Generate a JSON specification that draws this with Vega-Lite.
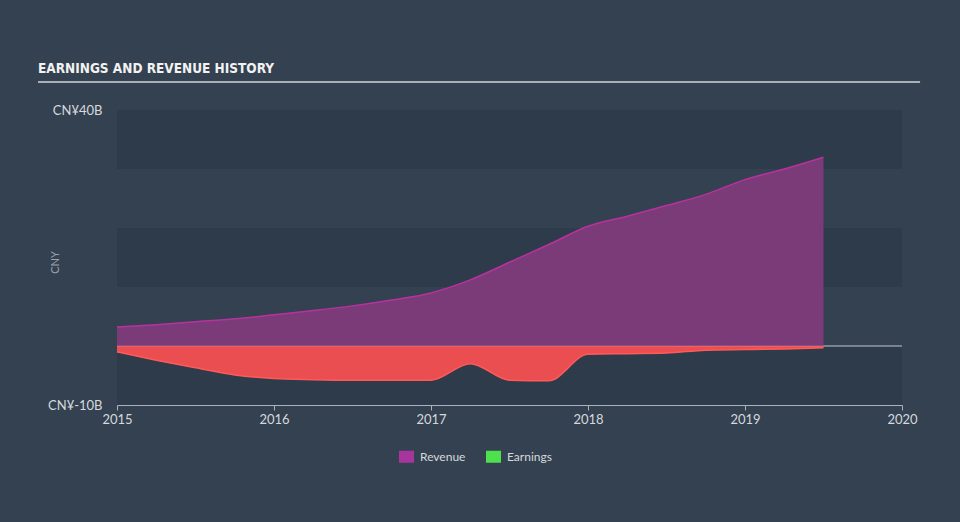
{
  "$schema": "https://vega.github.io/schema/vega-lite/v6.json",
  "width": 785,
  "height": 295,
  "autosize": "none",
  "padding": {"left": 117, "top": 110, "right": 58, "bottom": 117},
  "background": "#344150",
  "title": {
    "text": "EARNINGS AND REVENUE HISTORY",
    "anchor": "start",
    "frame": "group",
    "dx": -79,
    "offset": 5,
    "font": "DejaVu Sans Condensed, Roboto, sans-serif",
    "fontWeight": "bold",
    "fontSize": 13.5,
    "color": "#f2f2f2"
  },
  "datasets": {
    "bands": [
      {"lo": 30, "hi": 40},
      {"lo": 10, "hi": 20},
      {"lo": -10, "hi": 0}
    ],
    "revenue": [
      {"year": 2015.0, "value": 3.2},
      {"year": 2015.25, "value": 3.6},
      {"year": 2015.5, "value": 4.1},
      {"year": 2015.75, "value": 4.6},
      {"year": 2016.0, "value": 5.3},
      {"year": 2016.25, "value": 6.0},
      {"year": 2016.5, "value": 6.8},
      {"year": 2016.75, "value": 7.8},
      {"year": 2017.0, "value": 9.0},
      {"year": 2017.25, "value": 11.2},
      {"year": 2017.5, "value": 14.2},
      {"year": 2017.75, "value": 17.2},
      {"year": 2018.0, "value": 20.3},
      {"year": 2018.25, "value": 22.0},
      {"year": 2018.5, "value": 23.8},
      {"year": 2018.75, "value": 25.7},
      {"year": 2019.0, "value": 28.2},
      {"year": 2019.25, "value": 30.0},
      {"year": 2019.5, "value": 32.0}
    ],
    "earnings": [
      {"year": 2015.0, "value": -1.0},
      {"year": 2015.25, "value": -2.4},
      {"year": 2015.5, "value": -3.7},
      {"year": 2015.75, "value": -4.9},
      {"year": 2016.0, "value": -5.5},
      {"year": 2016.25, "value": -5.7},
      {"year": 2016.5, "value": -5.8},
      {"year": 2016.75, "value": -5.8},
      {"year": 2017.0, "value": -5.8},
      {"year": 2017.25, "value": -3.0},
      {"year": 2017.5, "value": -5.8},
      {"year": 2017.75, "value": -5.9},
      {"year": 2018.0, "value": -1.4},
      {"year": 2018.25, "value": -1.3},
      {"year": 2018.5, "value": -1.2},
      {"year": 2018.75, "value": -0.7},
      {"year": 2019.0, "value": -0.6},
      {"year": 2019.25, "value": -0.5},
      {"year": 2019.5, "value": -0.3}
    ],
    "legend": [
      {"series": "Revenue"},
      {"series": "Earnings"}
    ],
    "one": [{"k": 1}]
  },
  "layer": [
    {
      "data": {"name": "bands"},
      "mark": {"type": "rect", "color": "#2e3b4a"},
      "encoding": {
        "x": {"datum": 2015, "type": "quantitative", "scale": {"domain": [2015, 2020]},
          "axis": {"values": [2015, 2016, 2017, 2018, 2019, 2020], "format": "d", "title": null, "grid": false,
            "domainColor": "#aab3bd", "tickColor": "#aab3bd", "tickSize": 5, "labelColor": "#d5d9de",
            "labelFontSize": 13, "labelFont": "Lato", "labelPadding": 3, "labelFlush": false}},
        "x2": {"datum": 2020},
        "y": {"field": "lo", "type": "quantitative", "scale": {"domain": [-10, 40], "nice": false},
          "axis": {"values": [-10, 40], "labelExpr": "'CN¥' + datum.value + 'B'", "title": "CNY",
            "grid": false, "domain": false, "ticks": false, "labelPadding": 15,
            "labelColor": "#d5d9de", "labelFontSize": 13, "labelFont": "Lato",
            "titleColor": "#9aa3ad", "titleFont": "Lato", "titleFontWeight": "normal", "titleFontSize": 11,
            "titleX": -62, "titleY": 152, "titleAngle": -90, "titleAlign": "center", "titleBaseline": "middle"}},
        "y2": {"field": "hi"}
      }
    },
    {
      "data": {"name": "one"},
      "mark": {"type": "rule", "color": "#c3c8ce", "strokeWidth": 1},
      "encoding": {
        "x": {"datum": 2015, "type": "quantitative"},
        "x2": {"datum": 2020},
        "y": {"datum": 0, "type": "quantitative"}
      }
    },
    {
      "data": {"name": "revenue"},
      "mark": {"type": "area", "interpolate": "monotone", "color": "#7b3a78", "opacity": 1,
        "line": {"color": "#b8329f", "strokeWidth": 1.5}},
      "encoding": {
        "x": {"field": "year", "type": "quantitative"},
        "y": {"field": "value", "type": "quantitative"}
      }
    },
    {
      "data": {"name": "earnings"},
      "mark": {"type": "area", "interpolate": "monotone", "color": "#ea4e50", "opacity": 1,
        "line": {"color": "#ff5a5a", "strokeWidth": 1.5}},
      "encoding": {
        "x": {"field": "year", "type": "quantitative"},
        "y": {"field": "value", "type": "quantitative"}
      }
    },
    {
      "data": {"name": "one"},
      "mark": {"type": "rule", "color": "#ffffff", "opacity": 0.22, "strokeWidth": 1},
      "encoding": {
        "x": {"datum": 2015, "type": "quantitative"},
        "x2": {"datum": 2019.5},
        "y": {"datum": 0, "type": "quantitative"}
      }
    },
    {
      "data": {"name": "one"},
      "mark": {"type": "rule", "color": "#a9b0b8", "strokeWidth": 2, "clip": false},
      "encoding": {
        "x": {"datum": 2014.497, "type": "quantitative"},
        "x2": {"datum": 2020.115},
        "y": {"datum": 44.75, "type": "quantitative"}
      }
    },
    {
      "data": {"name": "legend"},
      "mark": {"type": "square", "opacity": 0},
      "encoding": {
        "color": {"field": "series", "type": "nominal",
          "scale": {"domain": ["Revenue", "Earnings"], "range": ["#a8359e", "#4ee14e"]},
          "legend": {"title": null, "orient": "none", "direction": "horizontal",
            "legendX": 282, "legendY": 339,
            "symbolType": "M-1,-0.8L1,-0.8L1,0.8L-1,0.8Z", "symbolSize": 225, "symbolOpacity": 1,
            "symbolStrokeWidth": 0,
            "labelColor": "#d5d9de", "labelFont": "Lato", "labelFontSize": 12, "labelOffset": 6,
            "columnPadding": 20}}
      }
    }
  ],
  "config": {
    "view": {"stroke": null}
  }
}
